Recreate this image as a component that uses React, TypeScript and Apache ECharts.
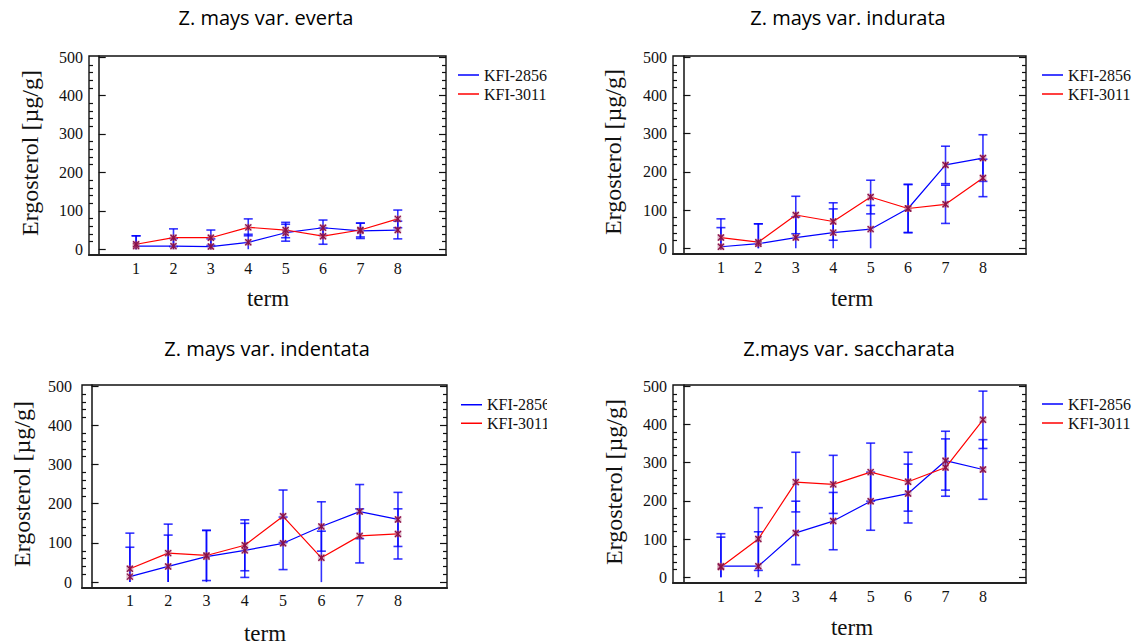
import React, { useEffect, useRef } from "react";
import * as echarts from "echarts";

const TITLES = [
  "Z. mays var. everta",
  "Z. mays var. indurata",
  "Z. mays var. indentata",
  "Z.mays var. saccharata",
];
const SERIES_NAMES = ["KFI-2856", "KFI-3011"];
const TERMS = [1, 2, 3, 4, 5, 6, 7, 8];
const Y_TICKS = [0, 100, 200, 300, 400, 500];
const Y_MINOR_TICKS = [
  20, 40, 60, 80, 120, 140, 160, 180, 220, 240, 260, 280, 320, 340, 360, 380, 420, 440, 460, 480,
];
const Y_NAME = "Ergosterol [µg/g]";
const X_NAME = "term";

// Z. mays var. everta
const everta2856 = [8, 8, 7, 18, 43, 56, 48, 50];
const everta2856Err = [27, 20, 20, 21, 22, 20, 20, 23];
const everta3011 = [13, 30, 30, 57, 50, 34, 50, 79];
const everta3011Err = [22, 23, 20, 22, 20, 21, 18, 23];

// Z. mays var. indurata
const indurata2856 = [4, 12, 28, 41, 50, 104, 218, 236];
const indurata2856Err = [50, 52, 54, 62, 62, 63, 49, 61];
const indurata3011 = [28, 16, 87, 70, 134, 104, 115, 184];
const indurata3011Err = [49, 48, 49, 49, 44, 63, 50, 49];

// Z. mays var. indentata
const indentata2856 = [14, 40, 65, 81, 99, 142, 180, 160];
const indentata2856Err = [111, 80, 67, 69, 67, 63, 69, 69];
const indentata3011 = [34, 74, 68, 94, 168, 62, 118, 123];
const indentata3011Err = [55, 74, 64, 65, 67, 68, 69, 64];

// Z. mays var. saccharata
const saccharata2856 = [29, 29, 116, 147, 199, 219, 305, 282];
const saccharata2856Err = [85, 90, 83, 75, 76, 77, 77, 78];
const saccharata3011 = [27, 100, 249, 243, 275, 250, 287, 412];
const saccharata3011Err = [78, 82, 78, 76, 76, 77, 75, 75];

const PANELS = [
  { blue: everta2856, blueErr: everta2856Err, red: everta3011, redErr: everta3011Err },
  { blue: indurata2856, blueErr: indurata2856Err, red: indurata3011, redErr: indurata3011Err },
  { blue: indentata2856, blueErr: indentata2856Err, red: indentata3011, redErr: indentata3011Err },
  { blue: saccharata2856, blueErr: saccharata2856Err, red: saccharata3011, redErr: saccharata3011Err },
];

const LAYOUT = [
  { left: 89, top: 56, width: 357, height: 199, xmin: -0.26, xmax: 9.29, yLM: 6, xLM: 5,
    title: [266, 17], yName: [30, 153], xName: [268, 298], legend: [458, 65.5], lh: 19 },
  { left: 673, top: 56, width: 353, height: 198, xmin: -0.28, xmax: 9.15, yLM: 6, xLM: 5,
    title: [848, 17], yName: [613, 152], xName: [852, 298], legend: [1042, 65.5], lh: 19 },
  { left: 82, top: 385, width: 365, height: 203, xmin: -0.25, xmax: 9.28, yLM: 10, xLM: 4,
    title: [267, 348], yName: [22, 484], xName: [265, 633], legend: [461, 395.5], lh: 18.5 },
  { left: 673, top: 385, width: 353, height: 198, xmin: -0.28, xmax: 9.15, yLM: 6, xLM: 5,
    title: [849, 348], yName: [614, 482], xName: [852, 627], legend: [1042, 394.5], lh: 19 },
];

const SERIF = "Liberation Serif";
const SANS = "Open Sans";
const BLUE = "#0000ff";
const RED = "#ff0000";
const Y_MIN = -15;
const Y_MAX = 503;

function errData(vals: number[], errs: number[]) {
  return TERMS.map((t, i) => {
    const raw = vals[i] - errs[i];
    return [t, Math.max(0, raw), vals[i] + errs[i], raw > 0 ? 1 : 0];
  });
}

function renderErr(params: any, api: any) {
  const x = api.value(0);
  const lo = api.value(1);
  const hi = api.value(2);
  const capLo = api.value(3);
  const pLo = api.coord([x, lo]);
  const pHi = api.coord([x, hi]);
  const w = 4.5;
  const style = { stroke: "rgba(0,0,255,0.8)", lineWidth: 1.6 };
  const children: any[] = [
    { type: "line", shape: { x1: pLo[0], y1: pLo[1], x2: pHi[0], y2: pHi[1] }, style },
    { type: "line", shape: { x1: pHi[0] - w, y1: pHi[1], x2: pHi[0] + w, y2: pHi[1] }, style },
  ];
  if (capLo) {
    children.push({ type: "line", shape: { x1: pLo[0] - w, y1: pLo[1], x2: pLo[0] + w, y2: pLo[1] }, style });
  }
  return { type: "group", children };
}

function renderMarker(params: any, api: any) {
  const p = api.coord([api.value(0), api.value(1)]);
  const s = 3;
  const st = { stroke: "#8a1048", lineWidth: 1.3 };
  return {
    type: "group",
    children: [
      { type: "rect", shape: { x: p[0] - 3.5, y: p[1] - 3.5, width: 7, height: 7 }, style: { fill: "rgba(190,110,140,0.45)" } },
      { type: "line", shape: { x1: p[0] - s, y1: p[1] - s, x2: p[0] + s, y2: p[1] + s }, style: st },
      { type: "line", shape: { x1: p[0] - s, y1: p[1] + s, x2: p[0] + s, y2: p[1] - s }, style: st },
      { type: "line", shape: { x1: p[0], y1: p[1] - s, x2: p[0], y2: p[1] + s }, style: st },
    ],
  };
}

function buildOption() {
  const grid: any[] = [];
  const xAxis: any[] = [];
  const yAxis: any[] = [];
  const series: any[] = [];
  const legend: any[] = [];
  const graphic: any[] = [];
  const labelFont = { fontFamily: SERIF, fontSize: 16, color: "#111" };
  const tickStyle = { color: "#111", width: 1.2 };

  LAYOUT.forEach((l, i) => {
    grid.push({
      left: l.left, top: l.top, width: l.width, height: l.height,
      show: true, borderColor: "#111", borderWidth: 1.4, backgroundColor: "transparent",
      containLabel: false, outerBoundsMode: "none",
    });
    xAxis.push({
      type: "value", gridIndex: i, min: l.xmin, max: l.xmax,
      axisLine: { show: true, onZero: false, lineStyle: { color: "#222", width: 2 } },
      axisTick: { show: false },
      splitLine: { show: false },
      axisLabel: { customValues: TERMS, margin: l.xLM, ...labelFont },
    });
    const base = { type: "value", gridIndex: i, min: Y_MIN, max: Y_MAX, splitLine: { show: false } };
    yAxis.push(
      {
        ...base, position: "left",
        axisLine: { show: true, lineStyle: { color: "#111", width: 1.5 } },
        axisLabel: { customValues: Y_TICKS, margin: l.yLM, ...labelFont },
        axisTick: { show: true, inside: true, length: 7, customValues: Y_TICKS, lineStyle: tickStyle },
      },
      {
        ...base, position: "left", axisLine: { show: false }, axisLabel: { show: false },
        axisTick: { show: true, inside: true, length: 4, customValues: Y_MINOR_TICKS, lineStyle: tickStyle },
      },
      {
        ...base, position: "right", axisLine: { show: false }, axisLabel: { show: false },
        axisTick: { show: true, inside: true, length: 7, customValues: Y_TICKS, lineStyle: tickStyle },
      },
      {
        ...base, position: "right", axisLine: { show: false }, axisLabel: { show: false },
        axisTick: { show: true, inside: true, length: 4, customValues: Y_MINOR_TICKS, lineStyle: tickStyle },
      }
    );
    const pd = PANELS[i];
    const yi = i * 4;
    series.push(
      { type: "custom", xAxisIndex: i, yAxisIndex: yi, z: 2, renderItem: renderErr,
        encode: { x: 0, y: [1, 2] }, data: errData(pd.blue, pd.blueErr) },
      { type: "custom", xAxisIndex: i, yAxisIndex: yi, z: 2, renderItem: renderErr,
        encode: { x: 0, y: [1, 2] }, data: errData(pd.red, pd.redErr) },
      { type: "line", name: SERIES_NAMES[0], xAxisIndex: i, yAxisIndex: yi, z: 3,
        symbol: "none", color: BLUE, lineStyle: { color: BLUE, width: 1.2 },
        data: TERMS.map((t, k) => [t, pd.blue[k]]) },
      { type: "line", name: SERIES_NAMES[1], xAxisIndex: i, yAxisIndex: yi, z: 3,
        symbol: "none", color: RED, lineStyle: { color: RED, width: 1.2 },
        data: TERMS.map((t, k) => [t, pd.red[k]]) },
      { type: "custom", xAxisIndex: i, yAxisIndex: yi, z: 4, renderItem: renderMarker,
        encode: { x: 0, y: 1 }, data: TERMS.map((t, k) => [t, pd.blue[k]]) },
      { type: "custom", xAxisIndex: i, yAxisIndex: yi, z: 4, renderItem: renderMarker,
        encode: { x: 0, y: 1 }, data: TERMS.map((t, k) => [t, pd.red[k]]) }
    );
    legend.push({
      data: SERIES_NAMES, left: l.legend[0], top: l.legend[1], orient: "vertical",
      icon: "rect", itemWidth: 21, itemHeight: 1.5, itemGap: 0, padding: 0,
      selectedMode: false,
      textStyle: { fontFamily: SERIF, fontSize: 16, color: "#111", lineHeight: l.lh },
    });
    graphic.push(
      { type: "text", x: l.title[0], y: l.title[1], z: 50,
        style: { text: TITLES[i], font: `20px "${SANS}"`, fill: "#000",
          align: "center", verticalAlign: "middle", textAlign: "center", textVerticalAlign: "middle" } },
      { type: "text", x: l.yName[0], y: l.yName[1], rotation: Math.PI / 2, z: 50,
        style: { text: Y_NAME, font: `24px "${SERIF}"`, fill: "#111",
          align: "center", verticalAlign: "middle", textAlign: "center", textVerticalAlign: "middle" } },
      { type: "text", x: l.xName[0], y: l.xName[1], z: 50,
        style: { text: X_NAME, font: `23px "${SERIF}"`, fill: "#111",
          align: "center", verticalAlign: "middle", textAlign: "center", textVerticalAlign: "middle" } }
    );
  });

  // the third panel's legend is cut off at its right edge in the reference
  graphic.push({ type: "rect", left: 547, top: 392, z: 100, shape: { width: 30, height: 45 }, style: { fill: "#fff" } });

  return {
    animation: false,
    backgroundColor: "#fff",
    grid, xAxis, yAxis, series, legend, graphic,
  };
}

export default function App() {
  const ref = useRef<HTMLDivElement>(null);
  useEffect(() => {
    const chart = echarts.init(ref.current!, undefined, { renderer: "svg" });
    chart.setOption(buildOption() as any);
    return () => chart.dispose();
  }, []);
  return (
    <div
      ref={ref}
      style={{ position: "fixed", left: 0, top: 0, width: 1142, height: 644, background: "#fff" }}
    />
  );
}
